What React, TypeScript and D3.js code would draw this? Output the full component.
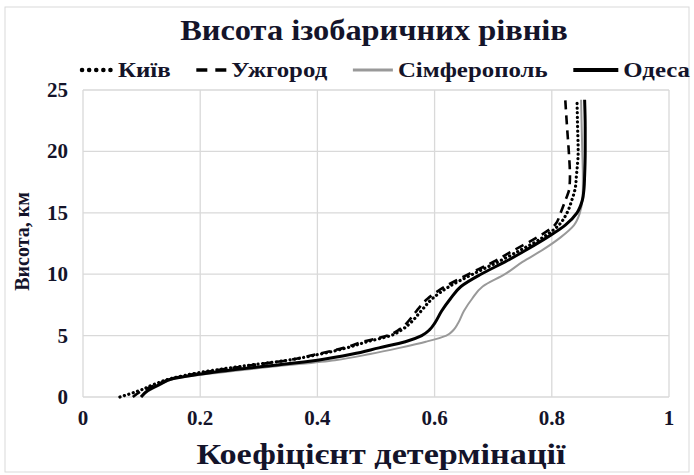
import React, { useEffect, useRef } from 'react';
import * as d3 from 'd3';

const heights = [0, 0.5, 1, 1.5, 2, 2.5, 3, 3.5, 4, 4.5, 5, 5.5, 6, 7, 8, 9, 10, 11, 12, 13, 14, 15, 16, 17, 18, 20, 22, 24.2];

const kyiv = [0.063, 0.095, 0.12, 0.15, 0.2, 0.27, 0.35, 0.405, 0.45, 0.485, 0.525, 0.545, 0.558, 0.577, 0.596, 0.625, 0.665, 0.708, 0.748, 0.785, 0.812, 0.826, 0.834, 0.84, 0.842, 0.845, 0.844, 0.843];
const uzhhorod = [0.085, 0.1, 0.125, 0.152, 0.205, 0.275, 0.35, 0.4, 0.445, 0.478, 0.52, 0.54, 0.552, 0.569, 0.588, 0.618, 0.658, 0.7, 0.737, 0.775, 0.805, 0.815, 0.823, 0.83, 0.831, 0.829, 0.826, 0.823];
const simferopol = [0.099, 0.112, 0.132, 0.158, 0.235, 0.33, 0.43, 0.49, 0.54, 0.585, 0.62, 0.633, 0.64, 0.65, 0.664, 0.682, 0.72, 0.75, 0.785, 0.815, 0.838, 0.848, 0.852, 0.853, 0.853, 0.852, 0.851, 0.85];
const odesa = [0.099, 0.11, 0.13, 0.154, 0.22, 0.31, 0.4, 0.46, 0.505, 0.55, 0.578, 0.592, 0.6, 0.612, 0.627, 0.645, 0.679, 0.72, 0.757, 0.792, 0.823, 0.843, 0.852, 0.855, 0.856, 0.857, 0.857, 0.856];

const seriesNames = ['Київ', 'Ужгород', 'Сімферополь', 'Одеса'];
const xTicks = [0, 0.2, 0.4, 0.6, 0.8, 1];
const yTicks = [0, 5, 10, 15, 20, 25];

const FONT = '"Liberation Serif", "Times New Roman", serif';
const INK = '#14142a';

type Style = { stroke: string; width: number; dash: string | null; cap: string };
const styles: Style[] = [
  { stroke: '#000', width: 3.2, dash: '0.1 4.5', cap: 'round' },
  { stroke: '#000', width: 2.6, dash: '9 6', cap: 'butt' },
  { stroke: '#999', width: 2, dash: null, cap: 'butt' },
  { stroke: '#000', width: 3, dash: null, cap: 'butt' },
];

const W = 694;
const H = 475;

export default function App() {
  const svgRef = useRef<SVGSVGElement>(null);

  useEffect(() => {
    if (!svgRef.current) return;
    const svg = d3.select(svgRef.current);
    svg.selectAll('*').remove();

    const margin = { top: 90, right: 25, bottom: 78, left: 83 };
    const width = W - margin.left - margin.right;
    const height = H - margin.top - margin.bottom;

    // the source picture is a bit wider than a plain Times render, so text gets stretched
    const label = (
      parent: d3.Selection<any, unknown, null, undefined>,
      x: number, y: number, txt: string, size: number, sx: number, anchor = 'middle',
    ) => parent.append('text')
      .attr('transform', `translate(${x},${y}) scale(${sx},1)`)
      .attr('text-anchor', anchor)
      .attr('font-family', FONT).attr('font-weight', 'bold').attr('font-size', size)
      .attr('fill', INK)
      .text(txt);

    // outer chart frame
    svg.append('rect')
      .attr('x', 5).attr('y', 7)
      .attr('width', W - 10).attr('height', H - 10)
      .attr('fill', '#fff')
      .attr('stroke', '#d9d9d9');

    const g = svg.append('g').attr('transform', `translate(${margin.left},${margin.top})`);

    const x = d3.scaleLinear().domain([0, 1]).range([0, width]);
    const y = d3.scaleLinear().domain([0, 25]).range([height, 0]);

    // grid
    g.selectAll('.gx').data(xTicks).enter().append('line')
      .attr('x1', d => x(d)).attr('x2', d => x(d))
      .attr('y1', 0).attr('y2', height)
      .attr('stroke', '#d9d9d9').attr('stroke-width', 1.3);
    g.selectAll('.gy').data(yTicks).enter().append('line')
      .attr('x1', 0).attr('x2', width)
      .attr('y1', d => y(d)).attr('y2', d => y(d))
      .attr('stroke', '#d9d9d9').attr('stroke-width', 1.3);

    // tick labels
    xTicks.forEach(d => label(g, x(d), height + 28, String(d), 20, 1.05));
    yTicks.forEach(d => label(g, -15, y(d) + 7, String(d), 20, 1.05, 'end'));

    // lines
    const all = [kyiv, uzhhorod, simferopol, odesa];
    const line = d3.line<number>()
      .x(d => x(d))
      .y((_, i) => y(heights[i]))
      .curve(d3.curveMonotoneY);

    [2, 1, 0, 3].forEach(k => {
      const s = styles[k];
      g.append('path')
        .datum(all[k])
        .attr('fill', 'none')
        .attr('stroke', s.stroke)
        .attr('stroke-width', s.width)
        .attr('stroke-dasharray', s.dash)
        .attr('stroke-linecap', s.cap)
        .attr('d', line);
    });

    // title
    label(svg, 374, 40, 'Висота ізобаричних рівнів', 30, 1.08);

    // axis titles
    label(svg, 381, 464, 'Коефіцієнт детермінації', 30, 1.14);

    svg.append('text')
      .attr('transform', `translate(29,${margin.top + height / 2 - 2}) rotate(-90)`)
      .attr('text-anchor', 'middle')
      .attr('font-family', FONT).attr('font-weight', 'bold').attr('font-size', 20)
      .attr('fill', INK)
      .text('Висота, км');

    // legend, spread from x=80 to x=690
    const legend = svg.append('g').attr('transform', 'translate(80,70)');
    const sampleW = [33, 30, 40, 45];
    const textSx = 1.13;
    const texts = seriesNames.map(name => label(legend, 0, 7, name, 22, textSx, 'start'));
    const tws = texts.map(t => (t.node() as SVGTextElement).getComputedTextLength() * textSx);
    const used = d3.sum(sampleW) + d3.sum(tws) + 5 * seriesNames.length;
    const gap = (610 - used) / (seriesNames.length - 1);
    let cx = 0;
    seriesNames.forEach((_, k) => {
      const s = styles[k];
      legend.append('line')
        .attr('x1', cx + (k === 0 ? 2 : 0)).attr('x2', cx + sampleW[k])
        .attr('y1', 0).attr('y2', 0)
        .attr('stroke', s.stroke)
        .attr('stroke-width', k === 0 ? 4.5 : s.width + 0.8)
        .attr('stroke-dasharray', k === 0 ? '0.1 7' : (k === 1 ? '11 8' : null))
        .attr('stroke-linecap', s.cap);
      texts[k].attr('transform', `translate(${cx + sampleW[k] + 5},7) scale(${textSx},1)`);
      cx += sampleW[k] + 5 + tws[k] + gap;
    });
  }, []);

  return (
    <svg
      ref={svgRef}
      width={W}
      height={H}
      style={{ position: 'absolute', left: 0, top: 0, background: '#fff' }}
    />
  );
}
